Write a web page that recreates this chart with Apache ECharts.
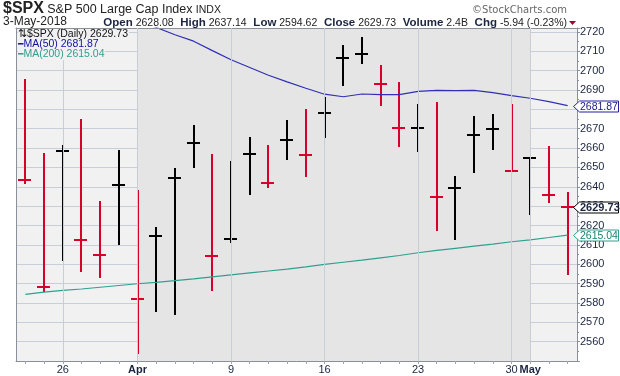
<!DOCTYPE html>
<html><head><meta charset="utf-8">
<script src="https://cdn.jsdelivr.net/npm/echarts@6/dist/echarts.min.js"></script>
<style>html,body{margin:0;padding:0;background:#fff}#c{width:620px;height:376px}</style>
</head><body><div id="c"></div>
<script>
// ---------- data ----------
const dates = ['2018-03-22','2018-03-23','2018-03-26','2018-03-27','2018-03-28','2018-03-29',
  '2018-04-02','2018-04-03','2018-04-04','2018-04-05','2018-04-06','2018-04-09','2018-04-10',
  '2018-04-11','2018-04-12','2018-04-13','2018-04-16','2018-04-17','2018-04-18','2018-04-19',
  '2018-04-20','2018-04-23','2018-04-24','2018-04-25','2018-04-26','2018-04-27','2018-04-30',
  '2018-05-01','2018-05-02','2018-05-03'];
const opens = [2691.36,2646.71,2619.35,2667.57,2611.30,2614.41,2633.45,2592.17,2584.04,2657.36,
  2645.82,2617.18,2638.41,2643.89,2653.83,2676.90,2670.10,2692.74,2710.11,2701.16,2692.56,2675.40,
  2680.80,2634.92,2651.65,2675.47,2682.51,2642.96,2654.24,2628.08];
const highs = [2695.68,2657.67,2661.36,2674.78,2632.65,2659.07,2638.30,2619.14,2649.86,2672.08,
  2656.88,2653.55,2665.45,2661.43,2674.72,2680.26,2686.49,2713.34,2717.49,2702.84,2693.94,2682.86,
  2683.55,2645.30,2676.48,2677.35,2682.87,2655.27,2660.87,2637.14];
const lows = [2641.59,2585.89,2601.81,2596.12,2593.06,2609.72,2553.80,2575.49,2573.61,2649.58,
  2586.27,2610.79,2635.78,2639.25,2653.83,2645.05,2665.16,2692.05,2703.63,2681.90,2660.61,2657.99,
  2617.32,2612.67,2647.16,2659.01,2648.04,2625.41,2631.70,2594.62];
const closes = [2643.69,2588.26,2658.55,2612.62,2605.00,2640.87,2581.88,2614.45,2644.69,2662.84,
  2604.47,2613.16,2656.87,2642.19,2663.99,2656.30,2677.84,2706.39,2708.64,2693.13,2670.14,2670.29,
  2634.56,2639.40,2666.94,2669.91,2648.05,2654.80,2635.67,2629.73];
const prevClose = 2711.93;
const ma50 = [2741,2739,2737,2734.5,2732,2729.5,2726,2722.3,2718.5,2715.2,2710.3,2705.6,2701.6,
  2697.6,2694.2,2690.9,2687.8,2686.5,2687.9,2687.6,2687.6,2689.3,2689.8,2689.7,2689.8,2688.6,
  2687.1,2685.7,2684.0,2681.87];
const ma200 = [2584.4,2585.6,2586.5,2587.2,2588.1,2589.0,2589.9,2590.6,2591.5,2592.4,2593.5,2594.5,
  2595.5,2596.5,2597.5,2598.6,2599.9,2601.0,2602.1,2603.3,2604.5,2605.9,2607.1,2608.2,2609.3,
  2610.4,2611.6,2612.6,2613.8,2615.04];
const lastVolume = '2.4B';
const yMin = 2550, yMax = 2722, yStep = 10, yLabelFrom = 2560, yLabelTo = 2720;
const xLabelDates = ['2018-03-26','2018-04-02','2018-04-09','2018-04-16','2018-04-23','2018-04-30','2018-05-01'];
const monthLabels = {'2018-04-02':'Apr','2018-05-01':'May'};
const shadeRange = ['2018-04-02','2018-05-01'];

// ---------- style ----------
const FONT = '"Liberation Sans", Arial, sans-serif';
const RED = '#d6002b', BLACK = '#000000', BLUE = '#3030b4', TEAL = '#2fa08f';
const BORDER = '#8a9099', GRID = '#c8ced8', TXT = '#1c2540';
const W = 620, GL = 16, GR = 43, GT = 28, GB = 15;

const n = dates.length, L = n - 1;
const dirs = closes.map((c, i) => c < (i ? closes[i - 1] : prevClose) ? 1 : 0);
const barData = dates.map((d, i) => [i, highs[i], lows[i], closes[i], dirs[i]]);
const labelSet = new Set(xLabelDates);
const chg = closes[L] - closes[L - 1];
const pct = chg / closes[L - 1] * 100;
const mNames = ['Jan','Feb','Mar','Apr','May','Jun','Jul','Aug','Sep','Oct','Nov','Dec'];
const ld = dates[L].split('-');
const dateStr = (+ld[2]) + '-' + mNames[+ld[1] - 1] + '-' + ld[0];

function renderItem(params, api) {
  const i = api.value(0);
  const t = api.coord([i, api.value(1)]);
  const b = api.coord([i, api.value(2)]);
  const c = api.coord([i, api.value(3)]);
  const color = api.value(4) ? RED : BLACK;
  const x = Math.round(t[0]);
  const cy = Math.round(c[1]);
  return { type: 'group', children: [
    { type: 'rect', shape: { x: x - 1, y: Math.round(t[1]), width: 2, height: Math.round(b[1]) - Math.round(t[1]) }, style: { fill: color } },
    { type: 'rect', shape: { x: x - 7, y: cy - 1, width: 13, height: 2 }, style: { fill: color } }
  ]};
}

const chart = echarts.init(document.getElementById('c'), null, { renderer: 'canvas' });
chart.setOption({
  animation: false,
  backgroundColor: '#ffffff',
  grid: { left: GL, right: GR, top: GT, bottom: GB, show: true, backgroundColor: '#f1f1f1', borderWidth: 0, containLabel: false },
  xAxis: [{
    type: 'category', data: dates, boundaryGap: true, position: 'bottom', z: 3,
    axisLine: { show: true, lineStyle: { color: BORDER, width: 1 } },
    axisTick: { show: true, interval: 0, alignWithLabel: true, length: 3, lineStyle: { color: '#a0a6b0' } },
    axisLabel: { interval: (i, v) => labelSet.has(v), margin: 3, color: TXT, fontFamily: FONT, fontSize: 11,
      formatter: v => monthLabels[v] ? '{m|' + monthLabels[v] + '}' : String(+v.split('-')[2]),
      rich: { m: { fontWeight: 'bold', fontSize: 11, fontFamily: FONT, color: TXT } } },
    splitLine: { show: false }
  }, {
    type: 'category', data: dates, boundaryGap: true, position: 'top', z: 3,
    axisLine: { show: true, lineStyle: { color: BORDER, width: 1 } },
    axisTick: { show: false }, axisLabel: { show: false }, splitLine: { show: false }
  }],
  yAxis: [{
    type: 'value', position: 'right', min: yMin, max: yMax, interval: yStep, z: 1,
    axisLine: { show: true, lineStyle: { color: BORDER, width: 1 } },
    axisTick: { show: true, length: 3, lineStyle: { color: BORDER } },
    minorTick: { show: true, splitNumber: 2, length: 2, lineStyle: { color: BORDER } },
    axisLabel: { margin: 3, color: TXT, fontFamily: FONT, fontSize: 11,
      formatter: v => (v >= yLabelFrom && v <= yLabelTo && v % yStep === 0) ? String(v) : '' },
    splitLine: { show: true, lineStyle: { color: GRID, width: 1 } }
  }, {
    type: 'value', position: 'left', min: yMin, max: yMax, interval: yStep, z: 3,
    axisLine: { show: true, lineStyle: { color: BORDER, width: 1 } },
    axisTick: { show: false }, axisLabel: { show: false }, splitLine: { show: false }
  }],
  series: [
    { type: 'line', data: [], z: 0.5, silent: true,
      markArea: { silent: true, itemStyle: { color: '#e5e5e5' },
        data: [[{ xAxis: shadeRange[0] }, { xAxis: shadeRange[1] }]] } },
    { type: 'line', data: [], z: 1, silent: true,
      markLine: { silent: true, symbol: ['none', 'none'], label: { show: false },
        lineStyle: { color: GRID, width: 1, type: 'solid' },
        data: xLabelDates.map(d => ({ xAxis: d })) } },
    { type: 'custom', data: barData, renderItem: renderItem, z: 2, encode: { x: 0, y: [1, 2, 3] } },
    { type: 'line', data: ma50, symbol: 'none', z: 2, clip: true, lineStyle: { color: BLUE, width: 1.2 } },
    { type: 'line', data: ma200, symbol: 'none', z: 2, clip: true, lineStyle: { color: TEAL, width: 1.2 } }
  ]
});

// value boxes on the right axis, positioned through the y scale
function valueBox(id, value, color, textColor, bold) {
  const yc = Math.round(chart.convertToPixel({ yAxisIndex: 0 }, value)) + 0.5;
  const tip = W - GR - 3.5;
  return [
    { type: 'polygon', id: id + 'b', z: 50,
      shape: { points: [[tip, yc], [tip + 6, yc - 5.5], [W - 1.5, yc - 5.5], [W - 1.5, yc + 5.5], [tip + 6, yc + 5.5]] },
      style: { fill: '#ffffff', stroke: color, lineWidth: 1 } },
    { type: 'text', id: id + 't', z: 51, x: tip + 6.5, y: yc + 0.5,
      style: { text: value.toFixed(2), font: (bold ? 'bold 11px ' : '10.5px ') + FONT, fill: textColor, verticalAlign: 'middle' } }
  ];
}

const graphics = [
  { type: 'text', x: 3, y: 1, style: { text: '{a|$SPX} {b|S&P 500 Large Cap Index} {c|INDX}',
      rich: { a: { font: 'bold 16px ' + FONT, fill: '#222', verticalAlign: 'bottom' },
              b: { font: '12.5px ' + FONT, fill: '#222', verticalAlign: 'bottom', padding: [0, 0, 1, 0] },
              c: { font: '10.5px ' + FONT, fill: '#222', verticalAlign: 'bottom', padding: [0, 0, 1, 0] } } } },
  { type: 'text', right: 53, y: 5, style: { text: '\u00a9StockCharts.com', font: '10px "DejaVu Sans"', fill: '#666' } },
  { type: 'text', x: 3, y: 16, style: { text: dateStr, font: '12px ' + FONT, fill: '#222' } },
  { type: 'text', right: 53, y: 17, style: {
      text: '{k|Open} ' + opens[L].toFixed(2) + '{g|  }{k|High} ' + highs[L].toFixed(2) + '{g|  }{k|Low} ' + lows[L].toFixed(2) +
            '{g|  }{k|Close} ' + closes[L].toFixed(2) + '{g|  }{k|Volume} ' + lastVolume + '{g|  }{k|Chg} ' + chg.toFixed(2) +
            ' (' + pct.toFixed(2) + '%)',
      font: '10.5px ' + FONT, fill: '#222',
      rich: { k: { font: 'bold 11.5px ' + FONT, fill: '#1c2540' }, g: { font: '12px ' + FONT } } } },
  { type: 'polygon', z: 5, shape: { points: [[569, 21], [576, 21], [572.5, 25]] }, style: { fill: '#a0002a' } },
  { type: 'text', x: 18, y: 29, z: 10, style: { text: '\u21c5$SPX (Daily) ' + closes[L].toFixed(2), font: '10.5px ' + FONT, fill: '#111', backgroundColor: '#f1f1f1', padding: [0, 1, 0, 0] } },
  { type: 'text', x: 18, y: 39, z: 10, style: { text: '{l|\u2501}MA(50) ' + ma50[L].toFixed(2), font: '10.5px ' + FONT, fill: '#1010a0', backgroundColor: '#f1f1f1',
      rich: { l: { font: 'bold 9px DejaVu Sans', fill: '#1010a0' } } } },
  { type: 'text', x: 18, y: 49, z: 10, style: { text: '{l|\u2501}MA(200) ' + ma200[L].toFixed(2), font: '10.5px ' + FONT, fill: TEAL, backgroundColor: '#f1f1f1',
      rich: { l: { font: 'bold 9px DejaVu Sans', fill: TEAL } } } }
].concat(
  valueBox('m50', ma50[L], '#2020a0', '#1a1a8a', false),
  valueBox('m200', ma200[L], TEAL, '#1a8070', false),
  valueBox('cls', closes[L], '#000000', '#1c2540', true)
);
chart.setOption({ graphic: graphics });
</script></body></html>
